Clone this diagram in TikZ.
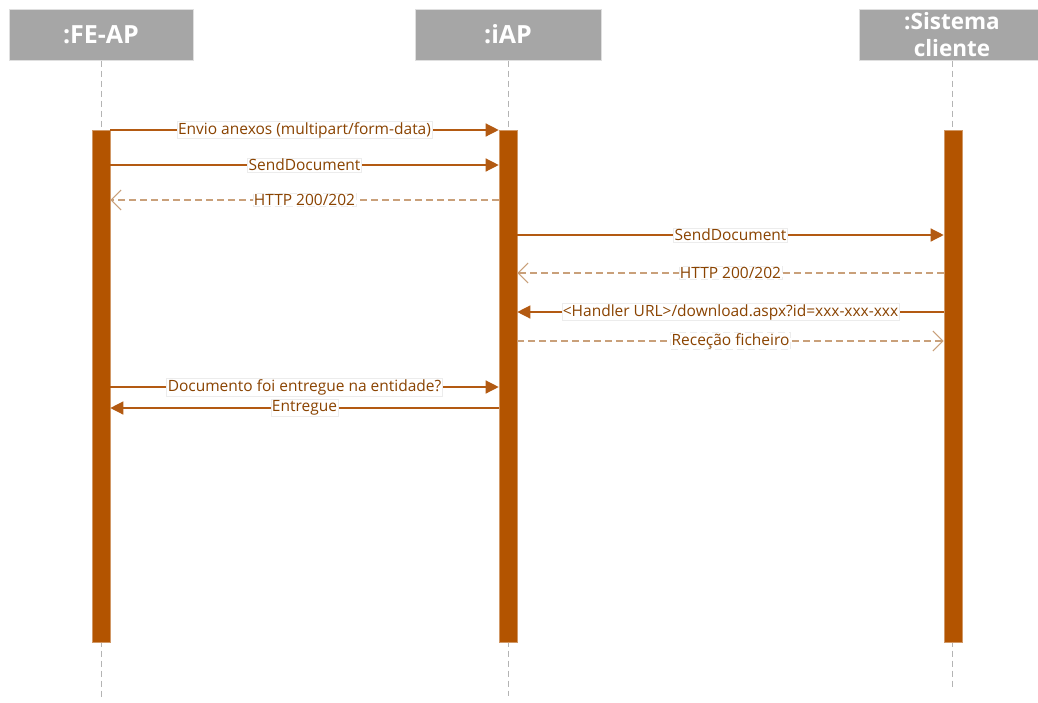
\documentclass[tikz,border=0pt]{standalone}
\usepackage{fontspec}
\setmainfont{Open Sans}
\usetikzlibrary{arrows.meta}
\definecolor{barfill}{HTML}{B35400}
\definecolor{solidc}{HTML}{B35A12}
\definecolor{dashc}{HTML}{C9A07A}
\definecolor{labtext}{HTML}{8A4300}
\definecolor{headgray}{HTML}{A6A6A6}
\definecolor{lifegray}{HTML}{B4B4B4}
\tikzset{
  head/.style={fill=headgray, draw=gray!25, line width=1pt, text=white,
    font=\bfseries\fontsize{25}{27}\selectfont, align=center, inner sep=0pt},
  lifeline/.style={draw=lifegray, line width=1pt, dash pattern=on 6pt off 4pt},
  actbar/.style={fill=barfill, draw=barfill!60!white, line width=0.6pt,
    minimum width=18pt, minimum height=512pt, inner sep=0pt},
  msg/.style={draw=solidc, line width=1.3pt, -{Triangle[length=13pt,width=13pt]}},
  reply/.style={draw=dashc, line width=1.1pt, dash pattern=on 7pt off 4pt,
    -{Straight Barb[length=10pt,width=20pt,line width=1.1pt]}},
  lab/.style={fill=white, draw=gray!15, line width=0.6pt, text=labtext,
    font=\fontsize{15.5}{16}\selectfont, inner sep=1pt, outer sep=0pt}
}
\begin{document}
\begin{tikzpicture}[x=1pt,y=-1pt]
\useasboundingbox (0,0) rectangle (1038,702);
% headers
\node[head, minimum width=184pt, minimum height=51pt] (hA) at (101,34.5) {:FE-AP};
\node[head, minimum width=186pt, minimum height=51pt, font=\bfseries\fontsize{22.5}{27}\selectfont] (hC) at (952,34.5) {:Sistema\\cliente};
\node[head, minimum width=186pt, minimum height=51pt] (hB) at (508,34.5) {:iAP};
% lifeline ends
\coordinate (eA) at (101,700);
\coordinate (eB) at (508,696);
\coordinate (eC) at (952,690);
\draw[lifeline] (hA.south) -- (eA);
\draw[lifeline] (hB.south) -- (eB);
\draw[lifeline] (hC.south) -- (eC);
% activation bars
\node[actbar] (bA) at (101,386) {};
\node[actbar] (bB) at (508,386) {};
\node[actbar] (bC) at (953,386) {};
% message levels
\coordinate (y1) at (0,130);
\coordinate (y2) at (0,165);
\coordinate (y3) at (0,200);
\coordinate (y4) at (0,235);
\coordinate (y5) at (0,273);
\coordinate (y6) at (0,312);
\coordinate (y7) at (0,341);
\coordinate (y8) at (0,387);
\coordinate (y9) at (0,408);
% messages
\draw[msg] (bA.east |- y1) -- node[lab] {Envio anexos (multipart/form-data)} (bB.west |- y1);
\draw[msg] (bA.east |- y2) -- node[lab] {SendDocument} (bB.west |- y2);
\draw[reply] (bB.west |- y3) -- node[lab] {HTTP 200/202} (bA.east |- y3);
\draw[msg] (bB.east |- y4) -- node[lab] {SendDocument} (bC.west |- y4);
\draw[reply] (bC.west |- y5) -- node[lab] {HTTP 200/202} (bB.east |- y5);
\draw[msg] (bC.west |- y6) -- node[lab] {<Handler URL>/download.aspx?id=xxx-xxx-xxx} (bB.east |- y6);
\draw[reply] (bB.east |- y7) -- node[lab] {Receção ficheiro} (bC.west |- y7);
\draw[msg] (bA.east |- y8) -- node[lab] {Documento foi entregue na entidade?} (bB.west |- y8);
\draw[msg] (bB.west |- y9) -- node[lab] {Entregue} (bA.east |- y9);
\end{tikzpicture}
\end{document}
